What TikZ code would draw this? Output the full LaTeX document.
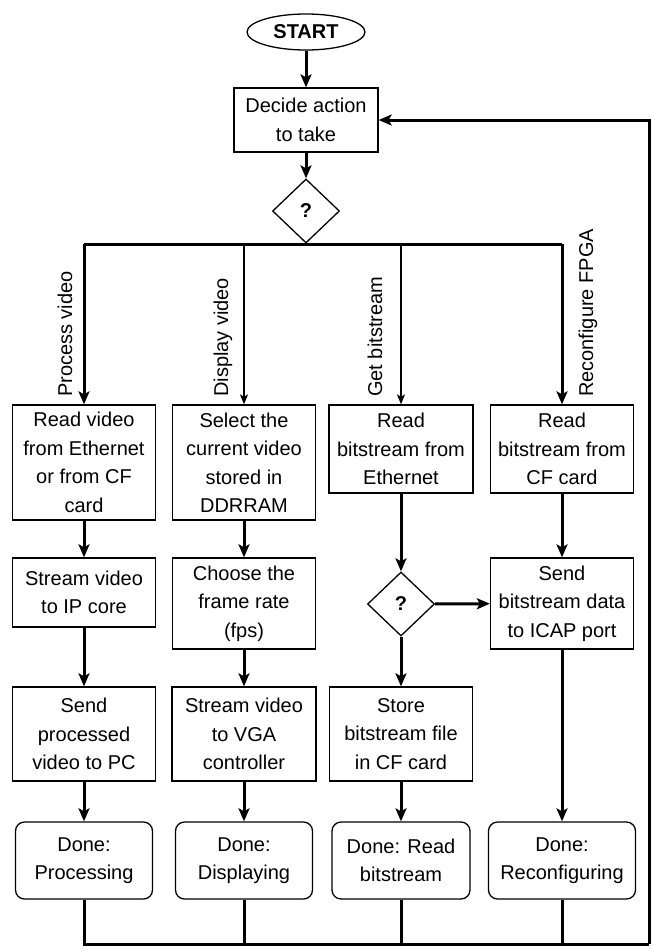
\documentclass[tikz,border=0pt]{standalone}
\usepackage{fontspec}
\setmainfont{Liberation Sans}
\usetikzlibrary{shapes.geometric,arrows.meta}
\begin{document}
\begin{tikzpicture}[x=1pt,y=-1pt,
  base/.style={font=\fontsize{20}{28.5}\selectfont, align=center, inner sep=0pt},
  proc/.style={base, draw, line width=1.3pt, rectangle},
  donebox/.style={base, draw, line width=1.3pt, rounded corners=9pt, minimum height=77pt},
  decis/.style={base, draw, line width=1.3pt, diamond, minimum width=67pt, minimum height=64pt, font=\fontsize{20}{24}\selectfont\bfseries},
  startbox/.style={base, draw, line width=1.3pt, ellipse, font=\fontsize{20}{24}\selectfont\bfseries},
  thickarrow/.style={line width=3pt, -{Stealth[length=13pt,width=11pt,inset=3pt]}},
  thinarrow/.style={line width=1.6pt, -{Stealth[length=10pt,width=8pt,inset=2.5pt]}},
  thickline/.style={line width=3pt},
  lbl/.style={font=\fontsize{20}{24}\selectfont, rotate=90, anchor=base west, inner sep=0pt}
]
\useasboundingbox (0,0) rectangle (653,951);

% top
\node[startbox, minimum width=118pt, minimum height=36pt] (start) at (306,32) {START};
\node[proc, minimum width=144pt, minimum height=64pt] (decide) at (306,120) {Decide action\\to take};
\node[decis] (q1) at (306,211) {?};

% branch coordinates
\coordinate (b1) at (84,244);
\coordinate (b2) at (244,244);
\coordinate (b3) at (401,244);
\coordinate (b4) at (562,244);

% row 1
\node[proc, minimum width=143pt, minimum height=115pt] (r1) at (84,462.5) {Read video\\from Ethernet\\or from CF\\card};
\node[proc, minimum width=143pt, minimum height=115pt] (r2) at (244,462.5) {Select the\\current video\\stored in\\DDRRAM};
\node[proc, minimum width=144pt, minimum height=88pt] (r3) at (401,449) {Read\\bitstream from\\Ethernet};
\node[proc, minimum width=143pt, minimum height=88pt] (r4) at (562,449) {Read\\bitstream from\\CF card};

% row 2
\node[proc, minimum width=143pt, minimum height=69pt] (s1) at (84,592.5) {Stream video\\to IP core};
\node[proc, minimum width=143pt, minimum height=91pt] (c2) at (244,603.5) {Choose the\\frame rate\\(fps)};
\node[decis] (q2) at (401,604) {?};
\node[proc, minimum width=143pt, minimum height=91pt] (i4) at (562,603.5) {Send\\bitstream data\\to ICAP port};

% row 3
\node[proc, minimum width=143pt, minimum height=94pt] (p1) at (84,734) {Send\\processed\\video to PC};
\node[proc, minimum width=144pt, minimum height=94pt] (v2) at (244,734) {Stream video\\to VGA\\controller};
\node[proc, minimum width=143pt, minimum height=94pt] (f3) at (401,734) {Store\\bitstream file\\in CF card};

% row 4
\node[donebox, minimum width=137pt] (d1) at (84,860.5) {Done:\\Processing};
\node[donebox, minimum width=137pt] (d2) at (244,860.5) {Done:\\Displaying};
\node[donebox, minimum width=138pt] (d3) at (401,860.5) {Done: Read\\bitstream};
\node[donebox, minimum width=147pt] (d4) at (562,860.5) {Done:\\Reconfiguring};

% branch labels
\node[lbl] (l1) at (72,397) {Process video};
\node[lbl] (l2) at (228,397) {Display video};
\node[lbl] (l3) at (382,397) {Get bitstream};
\node[lbl] (l4) at (593,397) {Reconfigure FPGA};

% loop coordinates
\coordinate (e1) at (84,944);
\coordinate (eR) at (649,944);

% connectors
\draw[thickarrow] (start) -- (decide);
\draw[thickarrow] (decide) -- (q1);
\draw[thickline] (b1) -- (b4);
\draw[thickarrow] (b1) -- (r1);
\draw[thinarrow] (b2) -- (r2);
\draw[thinarrow] (b3) -- (r3);
\draw[thickarrow] (b4) -- (r4);

\draw[thickarrow] (r1) -- (s1);
\draw[thickarrow] (s1) -- (p1);
\draw[thickarrow] (p1) -- (d1);

\draw[thickarrow] (r2) -- (c2);
\draw[thickarrow] (c2) -- (v2);
\draw[thickarrow] (v2) -- (d2);

\draw[thickarrow] (r3) -- (q2);
\draw[thickarrow] (q2) -- (f3);
\draw[thickarrow] (f3) -- (d3);
\draw[thickarrow] (q2) -- (i4);

\draw[thickarrow] (r4) -- (i4);
\draw[thickarrow] (i4) -- (d4);

\draw[thickline] (d1.south) -- (e1) -- (eR);
\draw[thickline] (d2.south) -- (d2.south |- e1);
\draw[thickline] (d3.south) -- (d3.south |- e1);
\draw[thickline] (d4.south) -- (d4.south |- e1);
\draw[thickarrow] (eR) |- (decide.east);
\end{tikzpicture}
\end{document}
